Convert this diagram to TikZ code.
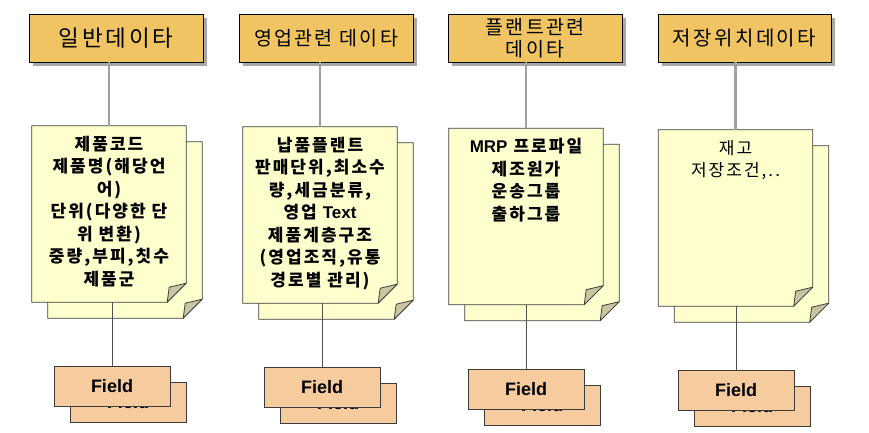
\documentclass[tikz,border=0pt]{standalone}
\usepackage{fontspec}
\setmainfont{Liberation Sans}
\newfontfamily\kr{Noto Sans CJK KR}[LetterSpace=12]
\usetikzlibrary{shadows}
\definecolor{hdrfill}{HTML}{F0C462}
\definecolor{notefill}{HTML}{FFFFCE}
\definecolor{foldfill}{HTML}{C9C5A2}
\definecolor{fieldfill}{HTML}{F6CB9D}
\definecolor{shadowgray}{HTML}{A8A8A8}
\definecolor{edgegray}{HTML}{3C3C3C}
\newcommand\notedraw[1]{%
  \draw[edgegray, line width=0.8pt, fill=notefill] (#1.north west) -- (#1.north east) -- ([yshift=19pt]#1.south east) -- ([xshift=-19pt]#1.south east) -- (#1.south west) -- cycle;
  \draw[edgegray, line width=0.8pt, fill=foldfill, line join=round] ([yshift=19pt]#1.south east) -- ([xshift=-19pt]#1.south east) -- ([xshift=-17pt,yshift=15pt]#1.south east) -- cycle;}
\tikzset{
  hdr/.style={draw=black, line width=0.9pt, fill=hdrfill, minimum width=174pt, minimum height=48pt, inner sep=0pt, align=center,
    drop shadow={opacity=1, fill=shadowgray, shadow xshift=4pt, shadow yshift=-4pt}},
  notebox/.style={minimum width=154pt, minimum height=176pt, inner sep=0pt},
  notetext/.style={anchor=north, inner sep=0pt, align=center, font=\kr\bfseries\fontsize{17}{22.5}\selectfont},
  fieldbox/.style={draw=edgegray, line width=0.8pt, fill=fieldfill, minimum width=116pt, minimum height=40pt, inner sep=0pt, font=\bfseries\fontsize{18}{20}\selectfont},
  upline/.style={draw=gray!75, line width=2.2pt},
  downline/.style={draw=edgegray!90, line width=0.8pt}
}
\begin{document}
\begin{tikzpicture}[x=1pt,y=-1pt]
\useasboundingbox (0,0) rectangle (869,432);
% headers
\node[hdr, font=\kr\fontsize{22.5}{24}\selectfont] (h1) at (116,38) {일반데이타};
\node[hdr, font=\kr\fontsize{19.5}{22}\selectfont] (h2) at (326,38) {영업관련 데이타};
\node[hdr, font=\kr\fontsize{19.5}{22}\selectfont] (h3) at (535,38) {플랜트관련\\데이타};
\node[hdr, font=\kr\fontsize{20}{22}\selectfont, minimum width=173pt] (h4) at (744.5,38) {저장위치데이타};
% note nodes (back, then front)
\node[notebox] (b1) at (125,230) {};
\node[notebox] (b2) at (336,231) {};
\node[notebox] (b3) at (542,232.5) {};
\node[notebox] (b4) at (751.5,234) {};
\node[notebox] (n1) at (109,214) {};
\node[notebox] (n2) at (320,215) {};
\node[notebox] (n3) at (526,216.5) {};
\node[notebox] (n4) at (735.5,218) {};
\notedraw{b1}\notedraw{n1}
\notedraw{b2}\notedraw{n2}
\notedraw{b3}\notedraw{n3}
\notedraw{b4}\notedraw{n4}
% note texts
\node[notetext] (t1) at ([yshift=-10pt]n1.north) {제품코드\\제품명(해당언\\어)\\단위(다양한 단\\위 변환)\\중량,부피,칫수\\제품군};
\node[notetext] (t2) at ([yshift=-10pt]n2.north) {납품플랜트\\판매단위,최소수\\량,세금분류,\\영업 {\rmfamily Text}\\제품계층구조\\(영업조직,유통\\경로별 관리)};
\node[notetext] (t3) at ([yshift=-10pt]n3.north) {{\rmfamily MRP} 프로파일\\제조원가\\운송그룹\\출하그룹};
\node[notetext, font=\kr\fontsize{17}{22.5}\selectfont] (t4) at ([yshift=-10pt]n4.north) {재고\\저장조건,..};
% fields (back, then front)
\node[fieldbox] (g1) at (128,402) {Field};
\node[fieldbox] (g2) at (338,403.5) {Field};
\node[fieldbox] (g3) at (542,405) {Field};
\node[fieldbox] (g4) at (752,406.5) {Field};
\node[fieldbox] (f1) at (112,386.5) {Field};
\node[fieldbox] (f2) at (322,387.5) {Field};
\node[fieldbox] (f3) at (526,389) {Field};
\node[fieldbox] (f4) at (736,390.5) {Field};
% connectors
\draw[upline] (h1.south -| n1.north) -- (n1.north);
\draw[upline] (h2.south -| n2.north) -- (n2.north);
\draw[upline] (h3.south -| n3.north) -- (n3.north);
\draw[upline] (h4.south -| n4.north) -- (n4.north);
\draw[downline] (f1.north |- n1.south) -- (f1.north);
\draw[downline] (f2.north |- n2.south) -- (f2.north);
\draw[downline] (f3.north |- n3.south) -- (f3.north);
\draw[downline] (f4.north |- n4.south) -- (f4.north);
\end{tikzpicture}
\end{document}
